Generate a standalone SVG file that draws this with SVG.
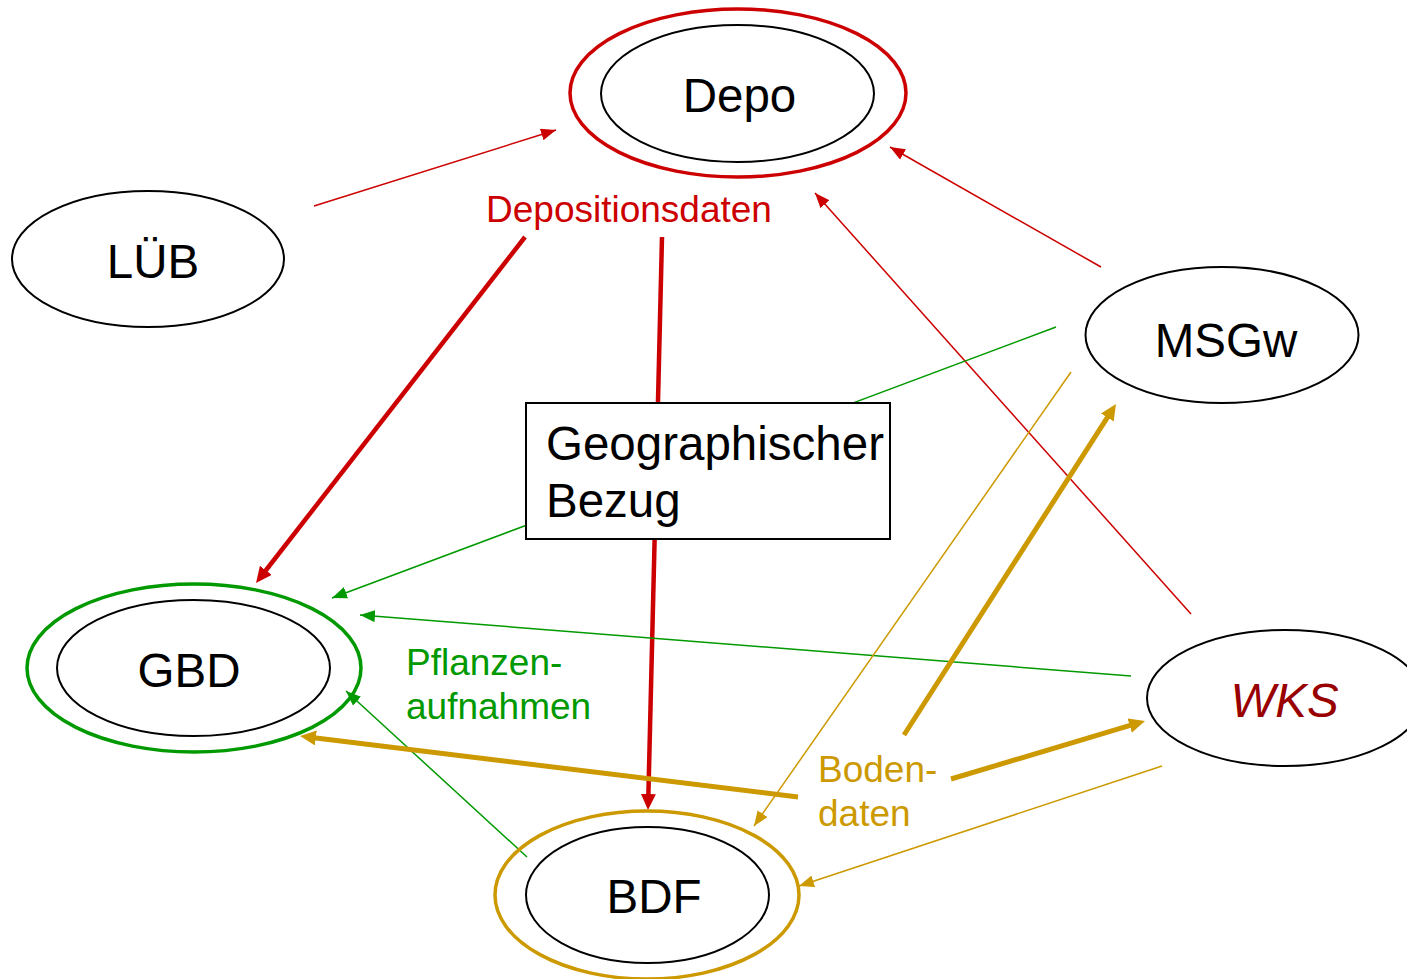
<svg xmlns="http://www.w3.org/2000/svg" width="1407" height="979" viewBox="0 0 1407 979">
<style>
text{font-family:"Liberation Sans",Arial,sans-serif}
.lbl{font-size:47.5px;fill:#000;text-anchor:middle}
.inner{fill:none;stroke:#000;stroke-width:2}
.outer{fill:none;stroke-width:3.5}
.thin{stroke-width:1.5;fill:none}
.thick{stroke-width:5;fill:none}
.r{stroke:#cc0000}.g{stroke:#009900}.y{stroke:#cc9900}
.small{font-size:37px}
</style>
<defs>
<marker id="ar" markerUnits="userSpaceOnUse" markerWidth="15" markerHeight="12" refX="15" refY="6" orient="auto"><path d="M0,0L15,6L0,12z" fill="#cc0000"/></marker>
<marker id="ag" markerUnits="userSpaceOnUse" markerWidth="15" markerHeight="12" refX="15" refY="6" orient="auto"><path d="M0,0L15,6L0,12z" fill="#009900"/></marker>
<marker id="ay" markerUnits="userSpaceOnUse" markerWidth="15" markerHeight="12" refX="15" refY="6" orient="auto"><path d="M0,0L15,6L0,12z" fill="#cc9900"/></marker>
<marker id="arT" markerUnits="userSpaceOnUse" markerWidth="16" markerHeight="15" refX="4" refY="7.5" orient="auto"><path d="M0,0L16,7.5L0,15z" fill="#cc0000"/></marker>
<marker id="ayT" markerUnits="userSpaceOnUse" markerWidth="16" markerHeight="15" refX="4" refY="7.5" orient="auto"><path d="M0,0L16,7.5L0,15z" fill="#cc9900"/></marker>
</defs>
<rect width="1407" height="979" fill="#fff"/>
<g id="connectors">
<line class="thin r" x1="314" y1="206" x2="556" y2="130" marker-end="url(#ar)"/>
<line class="thin r" x1="1101" y1="267" x2="890" y2="147" marker-end="url(#ar)"/>
<line class="thin r" x1="1191" y1="614" x2="815" y2="193" marker-end="url(#ar)"/>
<line class="thick r" style="stroke-width:4.5" x1="525" y1="237" x2="263.4" y2="573.5" marker-end="url(#arT)"/>
<line class="thick r" style="stroke-width:4.5" x1="662" y1="237" x2="648.3" y2="798" marker-end="url(#arT)"/>
<line class="thin g" x1="1056" y1="327" x2="332" y2="598" marker-end="url(#ag)"/>
<line class="thin g" x1="1131" y1="676" x2="360" y2="615" marker-end="url(#ag)"/>
<line class="thin g" x1="527" y1="857" x2="346" y2="691" marker-end="url(#ag)"/>
<line class="thick y" x1="798" y1="797" x2="311.9" y2="737.5" marker-end="url(#ayT)"/>
<line class="thick y" x1="951" y1="779" x2="1133.5" y2="724.4" marker-end="url(#ayT)"/>
<line class="thick y" x1="904" y1="735" x2="1109.5" y2="414.1" marker-end="url(#ayT)"/>
<line class="thin y" x1="1071" y1="372" x2="754" y2="826" marker-end="url(#ay)"/>
<line class="thin y" x1="1162" y1="766" x2="799" y2="886" marker-end="url(#ay)"/>
</g>
<g id="depo">
<ellipse class="outer r" cx="738" cy="93" rx="168" ry="84"/>
<ellipse class="inner" cx="737.5" cy="93.5" rx="136.5" ry="68.5"/>
<text class="lbl" x="739.5" y="112">Depo</text>
</g>
<g id="lueb">
<ellipse class="inner" cx="148" cy="259" rx="136" ry="68"/>
<text class="lbl" x="153" y="278">LÜB</text>
</g>
<g id="gbd">
<ellipse class="outer g" cx="194" cy="668" rx="167" ry="84"/>
<ellipse class="inner" cx="193.5" cy="668" rx="136.5" ry="68"/>
<text class="lbl" x="189" y="687">GBD</text>
</g>
<g id="bdf">
<ellipse class="outer y" cx="647" cy="895" rx="152" ry="84"/>
<ellipse class="inner" cx="647.5" cy="895" rx="121.5" ry="68"/>
<text class="lbl" x="654" y="913">BDF</text>
</g>
<g id="msgw">
<ellipse class="inner" cx="1222" cy="335" rx="136.5" ry="68"/>
<text class="lbl" x="1226" y="357">MSGw</text>
</g>
<g id="wks">
<ellipse class="inner" cx="1285" cy="698" rx="138" ry="68"/>
<text class="lbl" x="1284.5" y="717" style="fill:#990000;font-style:italic">WKS</text>
</g>
<g id="geo">
<rect x="526" y="403" width="364" height="136" fill="#fff" stroke="#000" stroke-width="2"/>
<text x="546" y="460" style="font-size:47.5px">Geographischer</text>
<text x="546" y="517" style="font-size:47.5px">Bezug</text>
</g>
<g id="labels">
<text class="small" x="486" y="222" fill="#cc0000">Depositionsdaten</text>
<text class="small" x="406" y="675" fill="#009900">Pflanzen-</text>
<text class="small" x="406" y="719" fill="#009900">aufnahmen</text>
<text class="small" x="818" y="782" fill="#cc9900">Boden-</text>
<text class="small" x="818" y="826" fill="#cc9900">daten</text>
</g>
</svg>
